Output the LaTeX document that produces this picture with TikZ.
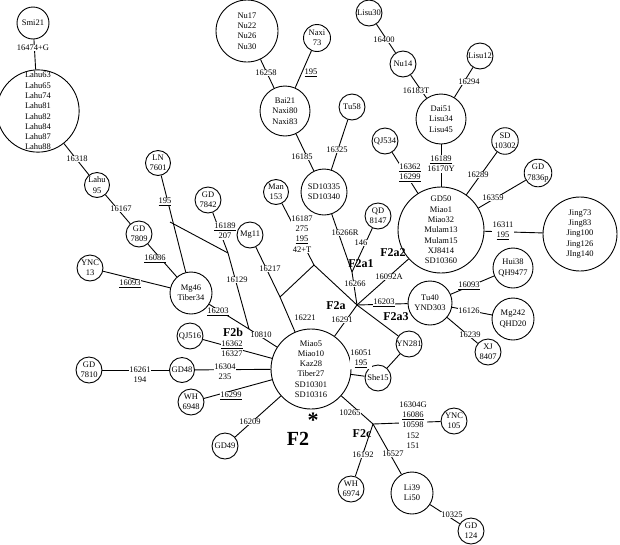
\documentclass[tikz,border=0pt]{standalone}
\usepackage{fontspec}
\setmainfont{Liberation Serif}
\begin{document}
\begin{tikzpicture}[x=1pt,y=-1pt,line width=0.9pt,
  hap/.style={draw,circle,inner sep=0pt,align=center,font=\fontsize{8.5}{10.3}\selectfont},
  lab/.style={fill=white,inner sep=0.6pt,align=center,font=\fontsize{8.5}{10.3}\selectfont},
  cl/.style={font=\fontsize{12}{12}\selectfont\bfseries,inner sep=0.5pt}]
\useasboundingbox (0,0) rectangle (620,544);
% haplotypes
\node[hap,minimum size=32pt] (smi) at (33,23) {Smi21};
\node[hap,minimum size=80pt] (lahu) at (38,111) {Lahu63\\Lahu65\\Lahu74\\Lahu81\\Lahu82\\Lahu84\\Lahu87\\Lahu88};
\node[hap,minimum size=25pt] (l95) at (97,185) {Lahu\\95};
\node[hap,minimum size=26pt] (gd7809) at (139,234) {GD\\7809};
\node[hap,minimum size=26pt] (ync13) at (90,268) {YNC\\13};
\node[hap,minimum size=42pt] (mg46) at (191,293) {Mg46\\Tiber34};
\node[hap,minimum size=25pt] (ln) at (158,163) {LN\\7601};
\node[hap,minimum size=26pt] (gd7842) at (208,200) {GD\\7842};
\node[hap,minimum size=26pt] (mg11) at (250,235) {Mg11};
\node[hap,minimum size=25pt] (man) at (276,192) {Man\\153};
\node[hap,minimum size=62pt] (nu) at (247,31) {Nu17\\Nu22\\Nu26\\Nu30};
\node[hap,minimum size=27pt] (naxi) at (317,38) {Naxi\\73};
\node[hap,minimum size=50pt] (bai) at (285,111) {Bai21\\Naxi80\\Naxi83};
\node[hap,minimum size=26pt] (tu58) at (352,107) {Tu58};
\node[hap,minimum size=46pt] (sd35) at (324,192) {SD10335\\SD10340};
\node[hap,minimum size=26pt] (qd) at (378,216) {QD\\8147};
\node[hap,minimum size=26pt] (lisu30) at (369,13) {Lisu30};
\node[hap,minimum size=26pt] (nu14) at (403,64) {Nu14};
\node[hap,minimum size=50pt] (dai) at (441,119) {Dai51\\Lisu34\\Lisu45};
\node[hap,minimum size=26pt] (lisu12) at (480,56) {Lisu12};
\node[hap,minimum size=26pt] (qj534) at (385,141) {QJ534};
\node[hap,minimum size=26pt] (sd302) at (505,141) {SD\\10302};
\node[hap,minimum size=26pt] (gd7836) at (538,173) {GD\\7836p};
\node[hap,minimum size=86pt] (gd50) at (441,230) {GD50\\Miao1\\Miao32\\Mulam13\\Mulam15\\XJ8414\\SD10360};
\node[hap,minimum size=74pt] (jing) at (580,234) {Jing73\\Jing83\\Jing100\\Jing126\\JIng140};
\node[hap,minimum size=44pt] (tu40) at (430,303) {Tu40\\YND303};
\node[hap,minimum size=40pt] (hui) at (513,268) {Hui38\\QH9477};
\node[hap,minimum size=42pt] (mg242) at (513,319) {Mg242\\QHD20};
\node[hap,minimum size=26pt] (xj) at (488,352) {XJ\\8407};
\node[hap,minimum size=26pt] (yn) at (409,344) {YN281};
\node[hap,minimum size=26pt] (she) at (378,378) {She15};
\node[hap,minimum size=80pt] (main) at (311,369) {Miao5\\Miao10\\Kaz28\\Tiber27\\SD10301\\SD10316};
\node[hap,minimum size=26pt] (qj516) at (190,336) {QJ516};
\node[hap,minimum size=26pt] (gd7810) at (89,370) {GD\\7810};
\node[hap,minimum size=25pt] (gd48) at (182,370) {GD48};
\node[hap,minimum size=26pt] (wh48) at (191,402) {WH\\6948};
\node[hap,minimum size=26pt] (gd49) at (225,446) {GD49};
\node[hap,minimum size=26pt] (ync105) at (454,421) {YNC\\105};
\node[hap,minimum size=26pt] (wh74) at (351,489) {WH\\6974};
\node[hap,minimum size=42pt] (li) at (412,493) {Li39\\Li50};
\node[hap,minimum size=26pt] (gd124) at (471,531) {GD\\124};
% junctions
\coordinate (b1) at (170,222);
\coordinate (j1) at (228,253);
\coordinate (j3) at (249,329);
\coordinate (j2) at (280,297);
\coordinate (t) at (314,265);
\coordinate (a1) at (352,272);
\coordinate (fa) at (357,305);
\coordinate (c) at (373,424);
% connectors
\draw (smi)--(lahu); \draw (lahu)--(l95); \draw (l95)--(gd7809); \draw (gd7809)--(mg46);
\draw (ync13)--(mg46); \draw (ln)--(mg46); \draw (b1)--(j1);
\draw (gd7842)--(j1)--(j3); \draw (mg46)--(j3); \draw (j3)--(main);
\draw (mg11)--(j2); \draw (man)--(t); \draw (j2)--(t)--(fa); \draw (j2)--(main);
\draw (sd35)--(a1); \draw (qd)--(a1); \draw (a1)--(fa);
\draw (bai)--(sd35); \draw (tu58)--(sd35); \draw (nu)--(bai); \draw (naxi)--(bai);
\draw (fa)--(gd50); \draw (fa)--(tu40); \draw (fa)--(yn); \draw (fa)--(main);
\draw (yn)--(she); \draw (main)--(she);
\draw (tu40)--(hui); \draw (tu40)--(mg242); \draw (tu40)--(xj);
\draw (gd50)--(dai); \draw (gd50)--(qj534); \draw (gd50)--(sd302); \draw (gd50)--(gd7836); \draw (gd50)--(jing);
\draw (dai)--(nu14); \draw (nu14)--(lisu30); \draw (dai)--(lisu12);
\draw (main)--(gd48); \draw (gd48)--(gd7810);
\draw (main)--(qj516); \draw (main)--(wh48); \draw (main)--(gd49);
\draw (main)--(c); \draw (c)--(ync105); \draw (c)--(wh74); \draw (c)--(li); \draw (li)--(gd124);
% mutation labels
\node[lab] at (33,48) {16474+G};
\node[lab] at (77,159) {16318};
\node[lab] at (121,209) {16167};
\node[lab] at (155,259) {\underline{16086}};
\node[lab] at (130,284) {\underline{16093}};
\node[lab] at (165,202) {\underline{195}};
\node[lab] at (225,231) {\underline{16189}\\207};
\node[lab] at (237,280) {16129};
\node[lab] at (218,312) {\underline{16203}};
\node[lab] at (261,335) {10810};
\node[lab] at (270,269) {16217};
\node[lab] at (302,234) {16187\\275\\\underline{195}\\42+T};
\node[lab] at (305,318) {16221};
\node[lab] at (266,73) {16258};
\node[lab] at (311,73) {\underline{195}};
\node[lab] at (302,157) {16185};
\node[lab] at (337,150) {16325};
\node[lab] at (345,233) {16266R};
\node[lab] at (361,243) {146};
\node[lab] at (355,284) {16266};
\node[lab] at (389,277) {16092A};
\node[lab] at (384,303) {\underline{16203}};
\node[lab] at (342,320) {16291};
\node[lab] at (361,359) {16051\\\underline{195}};
\node[lab] at (469,286) {\underline{16093}};
\node[lab] at (469,311) {16126};
\node[lab] at (470,335) {16239};
\node[lab] at (441,164) {\underline{16189}\\16170Y};
\node[lab] at (410,173) {\underline{16362}\\\underline{16299}};
\node[lab] at (478,175) {16289};
\node[lab] at (493,198) {16359};
\node[lab] at (503,231) {16311\\\underline{195}};
\node[lab] at (416,91) {16183T};
\node[lab] at (384,40) {16400};
\node[lab] at (469,82) {16294};
\node[lab] at (225,372) {16304\\235};
\node[lab] at (140,375) {16261\\194};
\node[lab] at (232,349) {\underline{16362}\\16327};
\node[lab] at (231,396) {\underline{16299}};
\node[lab] at (250,422) {16209};
\node[lab] at (350,413) {10265};
\node[lab] at (413,425) {16304G\\\underline{16086}\\10598\\152\\151};
\node[lab] at (363,455) {16192};
\node[lab] at (393,454) {16527};
\node[lab] at (452,515) {10325};
% clade labels
\node[cl] at (233,332) {F2b};
\node[cl] at (361,264) {F2a1};
\node[cl] at (393,253) {F2a2};
\node[cl] at (336,306) {F2a};
\node[cl] at (396,317) {F2a3};
\node[cl] at (362,434) {F2c};
\node[font=\fontsize{20}{20}\selectfont\bfseries,inner sep=0pt] at (298,439) {F2};
\node[font=\fontsize{22}{22}\selectfont\bfseries,inner sep=0pt] at (313,420) {*};
\end{tikzpicture}
\end{document}
